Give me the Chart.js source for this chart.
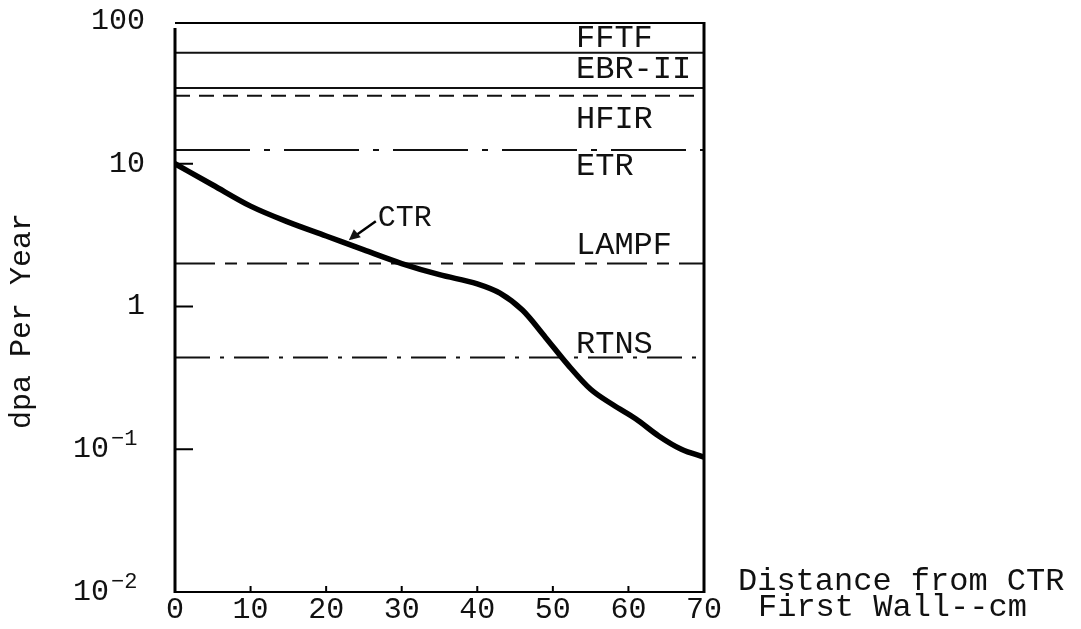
<!DOCTYPE html>
<html>
<head>
<meta charset="utf-8">
<script src="https://cdn.jsdelivr.net/npm/chart.js@4/dist/chart.umd.min.js"></script>
<style>
  html, body { margin: 0; padding: 0; background: #fff; }
  #wrap { width: 1081px; height: 629px; }
</style>
</head>
<body>
<div id="wrap"><canvas id="grafico" width="1081" height="629"></canvas></div>
<script>
// data
const distancia = [0, 5, 10, 15, 20, 25, 30, 35, 40, 43, 46, 49, 52, 55, 58, 61, 64, 67, 70];
const dpaCTR = [10, 7.1, 5.05, 3.9, 3.12, 2.49, 2.0, 1.67, 1.44, 1.24, 0.94, 0.61, 0.39, 0.263, 0.204, 0.163, 0.124, 0.1, 0.088];
const instalacoes = ["FFTF", "EBR-II", "HFIR", "ETR", "LAMPF", "RTNS"];
const dpaInstalacoes = [60, 34, 30, 12.5, 2, 0.44];
const xTicks = [0, 10, 20, 30, 40, 50, 60, 70];
const yTicks = [0.01, 0.1, 1, 10, 100];
const yTickBase = ["10  ", "10  ", "1", "10", "100"];
const yTickExpoente = ["\u22122", "\u22121", "", "", ""];

// estilos
const FONTE = "'Liberation Mono', 'Courier New', monospace";
const tracos = [[], [], [15, 9], [75, 14, 6, 14], [40, 10, 12, 10], [35, 10, 4, 10]];
const deslocRotulo = [-15, -19, 23, 16, -19, -14]; // px do centro do texto até a linha

function valorNaCurva(x) {
  for (let i = 0; i < distancia.length - 1; i++) {
    if (x >= distancia[i] && x <= distancia[i + 1]) {
      const t = (x - distancia[i]) / (distancia[i + 1] - distancia[i]);
      const a = Math.log10(dpaCTR[i]), b = Math.log10(dpaCTR[i + 1]);
      return Math.pow(10, a + t * (b - a));
    }
  }
  return dpaCTR[dpaCTR.length - 1];
}

const datasets = [{
  label: "CTR",
  data: distancia.map((d, i) => ({ x: d, y: dpaCTR[i] })),
  borderColor: "#000",
  borderWidth: 5.5,
  pointRadius: 0,
  cubicInterpolationMode: "monotone",
  borderCapStyle: "round"
}];
instalacoes.forEach((nome, i) => {
  datasets.push({
    label: nome,
    data: [{ x: 0, y: dpaInstalacoes[i] }, { x: 70, y: dpaInstalacoes[i] }],
    borderColor: "#111",
    borderWidth: 2,
    borderDash: tracos[i],
    pointRadius: 0
  });
});

const extras = {
  id: "extras",
  afterDraw(chart) {
    const ctx = chart.ctx;
    const a = chart.chartArea;
    const sx = chart.scales.x, sy = chart.scales.y;
    ctx.save();
    ctx.strokeStyle = "#000";
    ctx.fillStyle = "#111";

    // moldura
    ctx.lineWidth = 2;
    ctx.beginPath();
    ctx.moveTo(a.left, a.top + 2); ctx.lineTo(a.right, a.top + 2);
    ctx.moveTo(a.left, a.bottom); ctx.lineTo(a.right, a.bottom);
    ctx.stroke();
    ctx.lineWidth = 3;
    ctx.beginPath();
    ctx.moveTo(a.left, a.top + 7); ctx.lineTo(a.left, a.bottom + 1);
    ctx.moveTo(a.right, a.top + 1); ctx.lineTo(a.right, a.bottom + 1);
    ctx.stroke();

    // ticks internos
    ctx.lineWidth = 2;
    ctx.beginPath();
    [0.1, 1, 10].forEach(v => {
      const py = sy.getPixelForValue(v);
      ctx.moveTo(a.left, py); ctx.lineTo(a.left + 18, py);
    });
    xTicks.slice(1, -1).forEach(v => {
      const px = sx.getPixelForValue(v);
      ctx.moveTo(px, a.bottom); ctx.lineTo(px, a.bottom - 6);
    });
    ctx.stroke();

    // expoentes dos rótulos do eixo y
    ctx.font = "22px " + FONTE;
    ctx.textAlign = "left";
    ctx.textBaseline = "middle";
    yTicks.forEach((v, i) => {
      if (!yTickExpoente[i]) return;
      ctx.fillText(yTickExpoente[i], a.left - 64, sy.getPixelForValue(v) - 10);
    });

    // rótulos das instalações
    ctx.font = "32px " + FONTE;
    instalacoes.forEach((nome, i) => {
      const py = sy.getPixelForValue(dpaInstalacoes[i]) + deslocRotulo[i];
      ctx.fillText(nome, a.right - 128, py + 1);
    });

    // seta e rótulo CTR
    const px = sx.getPixelForValue(23);
    const py = sy.getPixelForValue(valorNaCurva(23)) - 4;
    ctx.lineWidth = 2.5;
    ctx.beginPath();
    ctx.moveTo(px + 27, py - 19); ctx.lineTo(px + 3, py - 2);
    ctx.stroke();
    ctx.beginPath();
    ctx.moveTo(px, py);
    ctx.lineTo(px + 5, py - 11);
    ctx.lineTo(px + 12, py - 3);
    ctx.closePath();
    ctx.fill();
    ctx.font = "30px " + FONTE;
    ctx.fillText("CTR", px + 29, py - 22);

    // título do eixo x, à direita
    ctx.font = "32px " + FONTE;
    ctx.fillText("Distance from CTR", a.right + 34, a.bottom - 10);
    ctx.fillText("First Wall--cm", a.right + 54, a.bottom + 16);

    // título do eixo y
    ctx.translate(22, 321);
    ctx.rotate(-Math.PI / 2);
    ctx.textAlign = "center";
    ctx.font = "30px " + FONTE;
    ctx.fillText("dpa Per Year", 0, 0);
    ctx.restore();
  }
};

function inicializarGrafico() {
  const ctx = document.getElementById("grafico").getContext("2d");
  new Chart(ctx, {
    type: "line",
    data: { datasets: datasets },
    options: {
      responsive: false,
      animation: false,
      layout: { padding: { top: 21, right: 377, left: 0, bottom: 0 } },
      plugins: { legend: { display: false }, tooltip: { enabled: false } },
      scales: {
        x: {
          type: "linear",
          min: 0,
          max: 70,
          afterBuildTicks: s => { s.ticks = xTicks.map(v => ({ value: v })); },
          afterFit: s => { s.height = 37; s.paddingLeft = 0; s.paddingRight = 0; },
          grid: { display: false, drawTicks: false },
          border: { display: false },
          ticks: { color: "#111", padding: 0, maxRotation: 0, font: { family: FONTE, size: 30 } }
        },
        y: {
          type: "logarithmic",
          min: 0.01,
          max: 100,
          afterBuildTicks: s => { s.ticks = yTicks.map(v => ({ value: v })); },
          afterFit: s => { s.width = 175; s.paddingTop = 0; s.paddingBottom = 0; },
          grid: { display: false, drawTicks: false },
          border: { display: false },
          ticks: {
            color: "#111",
            padding: 30,
            font: { family: FONTE, size: 30 },
            callback: (v) => { const i = yTicks.indexOf(v); return i >= 0 ? yTickBase[i] : ""; }
          }
        }
      }
    },
    plugins: [extras]
  });
}

document.addEventListener("DOMContentLoaded", inicializarGrafico);
</script>
</body>
</html>
